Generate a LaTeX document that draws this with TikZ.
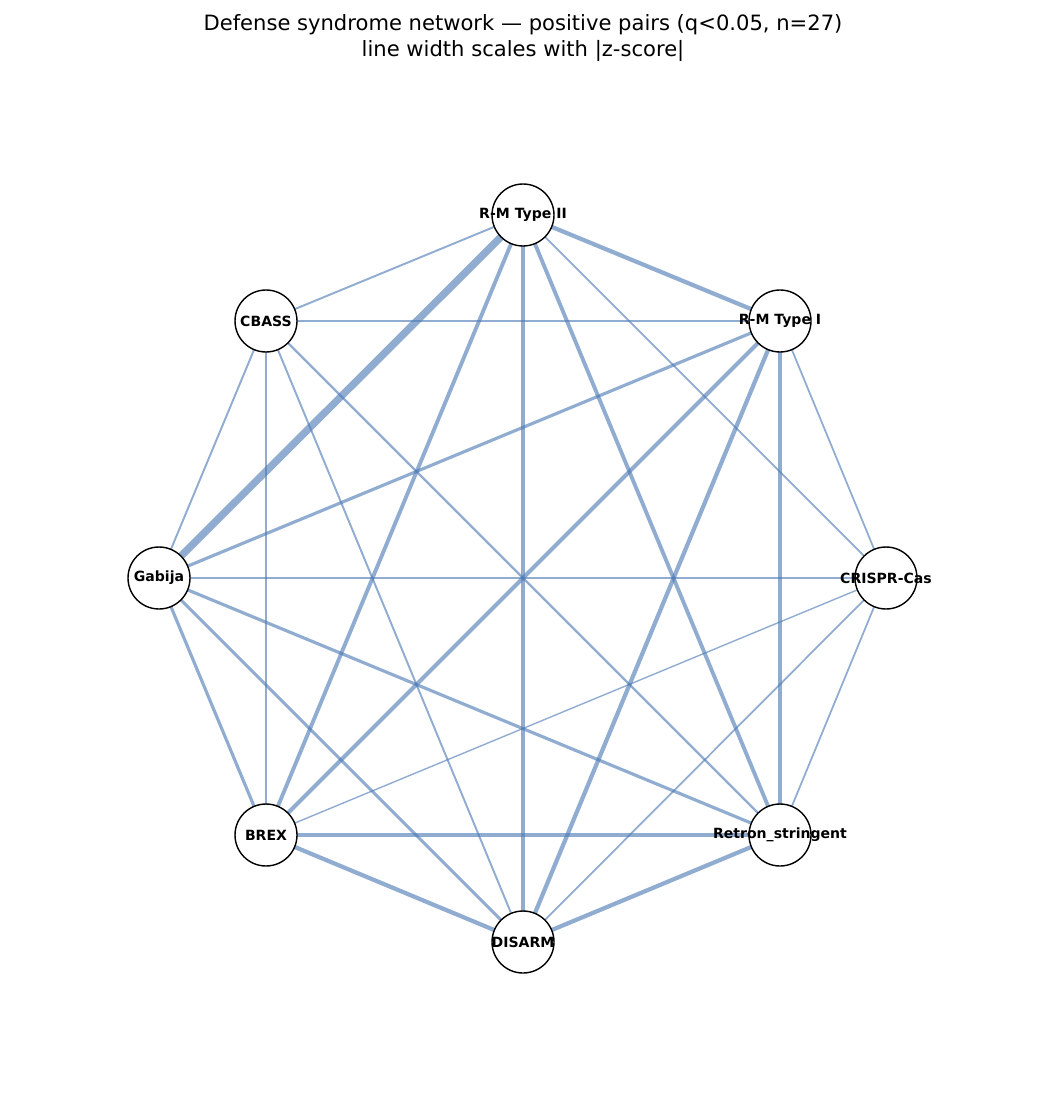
\documentclass[tikz,border=0pt]{standalone}
\usepackage{fontspec}
\setmainfont{DejaVu Sans}
\usetikzlibrary{backgrounds}
\definecolor{pairblue}{RGB}{76,122,180}
\tikzset{
net/.style = { x = 0.02cm, y = -0.02cm },
state/.style = { circle, draw, thick, fill = white, minimum size = 1.24cm, inner sep = 0pt },
tag/.style = { font = \bfseries\fontsize{8}{9}\selectfont },
pair/.style = { draw = pairblue, draw opacity = 0.62, line width = #1 }
}

\begin{document}
\begin{tikzpicture}[net]
	\useasboundingbox (0,0) rectangle (1045,1101);
	\node[align=center, font=\fontsize{12}{15}\selectfont] at (523,38)
		{Defense syndrome network — positive pairs (q<0.05, n=27)\\line width scales with |z-score|};
	% nodes on the circle
	\node[state] (rm2) at (523,215) {};
	\node[state] (rm1) at (780,321) {};
	\node[state] (cas) at (886,578) {};
	\node[state] (ret) at (780,835) {};
	\node[state] (dis) at (523,942) {};
	\node[state] (brex) at (266,835) {};
	\node[state] (gab) at (159,578) {};
	\node[state] (cbass) at (266,321) {};
	\foreach \n/\t in {rm2/R-M Type II, rm1/R-M Type I, cas/CRISPR-Cas, ret/Retron\_stringent,
		dis/DISARM, brex/BREX, gab/Gabija, cbass/CBASS}
		\node[tag] at (\n) {\t};
	% pairs, width in pt
	\begin{scope}[on background layer]
	\foreach \a/\b/\w in {
		rm2/cbass/1.1, rm2/rm1/2.4, rm2/gab/4.2, rm2/brex/2.2, rm2/dis/2.4, rm2/ret/2.2, rm2/cas/1.0,
		rm1/cbass/1.3, rm1/gab/1.8, rm1/brex/2.4, rm1/dis/2.4, rm1/ret/2.4, rm1/cas/1.0,
		cas/gab/0.8, cas/brex/0.8, cas/dis/1.0, cas/ret/1.0,
		cbass/gab/1.1, cbass/brex/1.3, cbass/dis/1.1, cbass/ret/1.3,
		gab/brex/1.8, gab/dis/1.8, gab/ret/1.8,
		brex/dis/2.4, brex/ret/2.4, dis/ret/2.4}
		\draw[pair=\w pt] (\a.center) -- (\b.center);
	\end{scope}
\end{tikzpicture}
\end{document}
